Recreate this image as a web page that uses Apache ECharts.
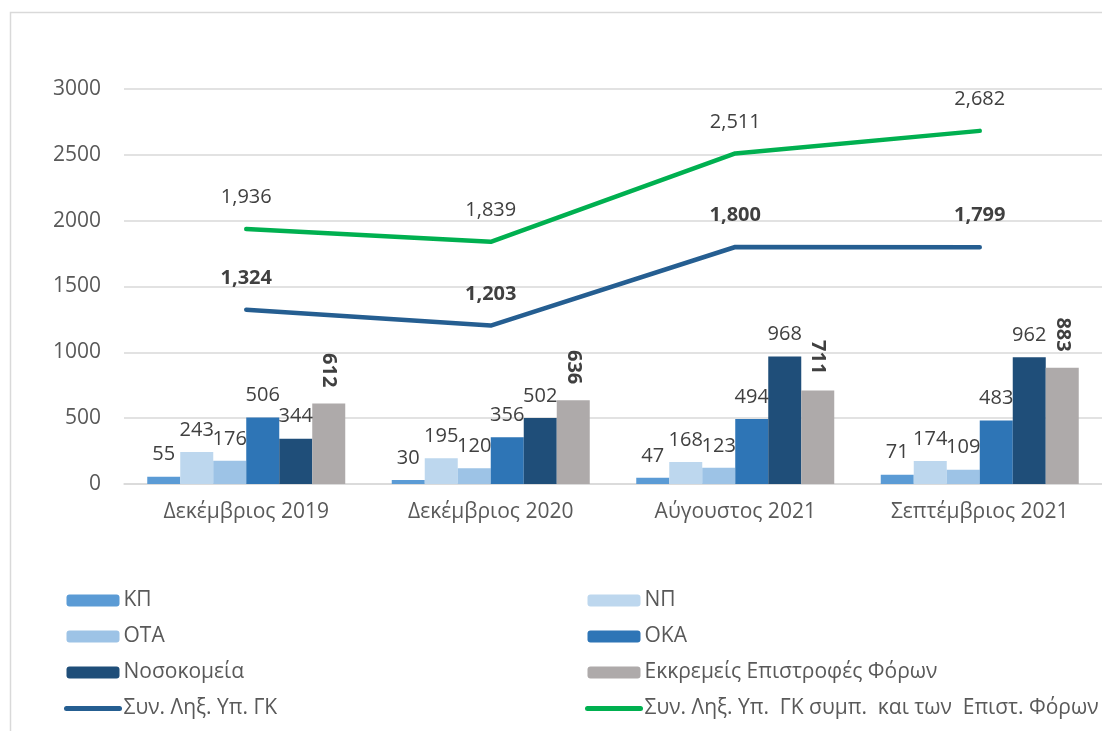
<!DOCTYPE html>
<html>
<head>
<meta charset="utf-8">
<script src="https://cdn.jsdelivr.net/npm/echarts@6/dist/echarts.min.js"></script>
<style>
  html, body { margin: 0; padding: 0; background: #fff; }
  #chart { width: 1102px; height: 731px; }
</style>
</head>
<body>
<div id="chart"></div>
<script>
// categories
const categories = ["Δεκέμβριος 2019", "Δεκέμβριος 2020", "Αύγουστος 2021", "Σεπτέμβριος 2021"];

// bar series
const kp = [55, 30, 47, 71];
const np = [243, 195, 168, 174];
const ota = [176, 120, 123, 109];
const oka = [506, 356, 494, 483];
const nosokomeia = [344, 502, 968, 962];
const epistrofes = [612, 636, 711, 883];

// line series
const synGK = [1324, 1203, 1800, 1799];
const synGKForon = [1936, 1839, 2511, 2682];

const yTicks = { min: 0, max: 3000, interval: 500 };

const FONT = "Open Sans";
const TXT = "#404040";
const LINE1 = "Συν. Ληξ. Υπ. ΓΚ";
const LINE2 = "Συν. Ληξ. Υπ.  ΓΚ συμπ.  και των  Επιστ. Φόρων";

function fmt(v) {
  return Number(v).toLocaleString("en-US");
}

function barSeries(name, data, color, extraLabel) {
  return {
    name: name,
    type: "bar",
    data: data,
    barWidth: 33,
    barGap: "0%",
    itemStyle: { color: color },
    label: Object.assign({
      show: true,
      position: "top",
      distance: 12,
      color: TXT,
      fontFamily: FONT,
      fontSize: 20,
    }, extraLabel || {}),
  };
}

function legendBox(left, names) {
  return {
    orient: "vertical",
    left: left,
    top: 590,
    height: 200,
    padding: 0,
    itemWidth: 53,
    itemHeight: 12,
    itemGap: 15,
    textStyle: { color: "#595959", fontFamily: FONT, fontSize: 21, padding: [0, 0, 0, -1] },
    data: names.map((n) =>
      n === LINE1 || n === LINE2
        ? { name: n, itemStyle: { opacity: 0 }, lineStyle: { width: 5, cap: "round" } }
        : n
    ),
  };
}

let chartDom = document.getElementById("chart");
let myChart = echarts.init(chartDom);

let option = {
  animation: false,
  textStyle: { fontFamily: FONT },
  graphic: [
    {
      type: "rect",
      shape: { x: 10.5, y: 12.5, width: 1200, height: 800 },
      style: { fill: null, stroke: "#D9D9D9", lineWidth: 1.5 },
      silent: true,
    },
  ],
  grid: {
    left: 124,
    right: -12,
    top: 89,
    bottom: 247,
  },
  legend: [
    legendBox(64, ["ΚΠ", "ΟΤΑ", "Νοσοκομεία", LINE1]),
    legendBox(585, ["ΝΠ", "ΟΚΑ", "Εκκρεμείς Επιστροφές Φόρων", LINE2]),
  ],
  xAxis: {
    type: "category",
    data: categories,
    axisLine: { lineStyle: { color: "#D9D9D9", width: 1.5 } },
    axisTick: { show: false },
    axisLabel: { color: "#595959", fontFamily: FONT, fontSize: 21, margin: 18 },
  },
  yAxis: {
    type: "value",
    min: yTicks.min,
    max: yTicks.max,
    interval: yTicks.interval,
    axisLine: { show: false },
    axisTick: { show: false },
    axisLabel: {
      color: "#595959",
      fontFamily: FONT,
      fontSize: 21,
      margin: 23,
      formatter: (v) => String(v),
    },
    splitLine: { lineStyle: { color: "#D9D9D9", width: 1.5 } },
  },
  series: [
    barSeries("ΚΠ", kp, "#5B9BD5"),
    barSeries("ΝΠ", np, "#BDD7EE"),
    barSeries("ΟΤΑ", ota, "#9DC3E6"),
    barSeries("ΟΚΑ", oka, "#2E75B6"),
    barSeries("Νοσοκομεία", nosokomeia, "#1F4E79"),
    barSeries("Εκκρεμείς Επιστροφές Φόρων", epistrofes, "#AEAAAA", {
      rotate: -90,
      align: "right",
      verticalAlign: "middle",
      distance: 16,
      fontWeight: "bold",
    }),
    {
      name: LINE1,
      type: "line",
      data: synGK,
      symbol: "circle",
      symbolSize: 1,
      z: 5,
      itemStyle: { color: "#255E91" },
      lineStyle: { color: "#255E91", width: 4.5, cap: "round", join: "round" },
      label: {
        show: true,
        position: "top",
        distance: 21,
        color: TXT,
        fontFamily: FONT,
        fontSize: 20,
        fontWeight: "bold",
        formatter: (p) => fmt(p.value),
      },
    },
    {
      name: LINE2,
      type: "line",
      data: synGKForon,
      symbol: "circle",
      symbolSize: 1,
      z: 5,
      itemStyle: { color: "#00B050" },
      lineStyle: { color: "#00B050", width: 4.5, cap: "round", join: "round" },
      label: {
        show: true,
        position: "top",
        distance: 21,
        color: TXT,
        fontFamily: FONT,
        fontSize: 20,
        formatter: (p) => fmt(p.value),
      },
    },
  ],
};

option && myChart.setOption(option);
</script>
</body>
</html>
